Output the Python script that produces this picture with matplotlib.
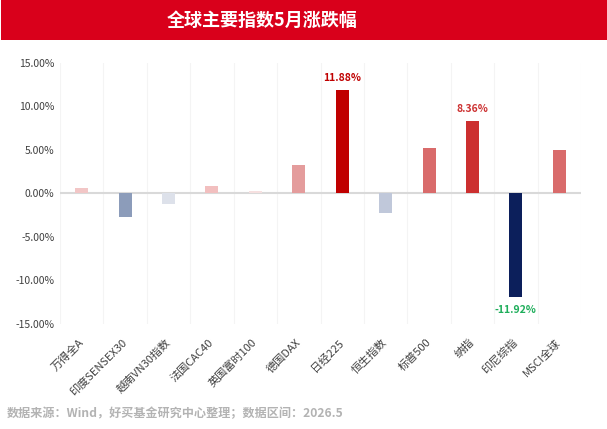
import matplotlib
matplotlib.use('Agg')
import matplotlib.pyplot as plt
from matplotlib.patches import Rectangle

plt.rcParams['font.family'] = ['Noto Sans CJK SC', 'DejaVu Sans']

# Data
indices = ['万得全A', '印度SENSEX30', '越南VN30指数', '法国CAC40', '英国富时100', '德国DAX',
           '日经225', '恒生指数', '标普500', '纳指', '印尼综指', 'MSCI全球']
returns = [0.58, -2.77, -1.27, 0.81, 0.23, 3.31, 11.88, -2.31, 5.19, 8.36, -11.92, 5.00]
colors = ['#f2c6c6', '#8c9cba', '#dde1ea', '#f2bfbf', '#f6e0e0', '#e49c9c',
          '#c00000', '#c0c8da', '#d96b6b', '#cc2f2f', '#0c1f5b', '#d96b6b']
yticks = [15, 10, 5, 0, -5, -10, -15]

fig = plt.figure(figsize=(6.07, 4.29), dpi=100)

# Red title banner
fig.patches.append(Rectangle((0.002, 1 - 40 / 429), 0.998, 40 / 429, transform=fig.transFigure,
                             facecolor='#d9001b', edgecolor='none', zorder=0))
fig.text(262 / 607, 1 - 20 / 429, '全球主要指数5月涨跌幅', ha='center', va='center',
         color='white', fontsize=13, fontweight='bold')

ax = fig.add_axes([60 / 607, 1 - 324 / 429, 521 / 607, 261.3 / 429])
x = list(range(len(indices)))
ax.bar(x, returns, width=0.3, color=colors, zorder=3)

# faint vertical separators
for b in range(len(indices) + 1):
    ax.axvline(b - 0.5, color='#f4f4f4', lw=0.8, zorder=1)
ax.axhline(0, color='#d9d9d9', lw=1.5, zorder=2)

ax.set_xlim(-0.5, len(indices) - 0.5)
ax.set_ylim(-15, 15)
ax.set_yticks(yticks)
ax.set_yticklabels(['%.2f%%' % v for v in yticks], fontsize=7.5, color='#404040')
ax.set_xticks(x)
ax.set_xticklabels(indices, rotation=45, ha='right', va='center', rotation_mode='anchor',
                   fontsize=8, color='#404040')
ax.tick_params(axis='y', length=0, pad=4)
ax.tick_params(axis='x', length=0, pad=12)
for s in ax.spines.values():
    s.set_visible(False)

# Value labels
label_style = {6: '#c00000', 9: '#cc2f2f', 10: '#1fae5b'}
for i, c in label_style.items():
    v = returns[i]
    off = 0.8 if v > 0 else -0.9
    ax.text(i, v + off, '%.2f%%' % v, ha='center', va='bottom' if v > 0 else 'top',
            color=c, fontsize=7.5, fontweight='bold')

fig.text(7 / 607, 1 - 414 / 429, '数据来源：Wind，好买基金研究中心整理；数据区间：2026.5',
         ha='left', va='center', color='#b3b3b3', fontsize=8.7, fontweight='bold')

fig.savefig('out.png', dpi=100)
